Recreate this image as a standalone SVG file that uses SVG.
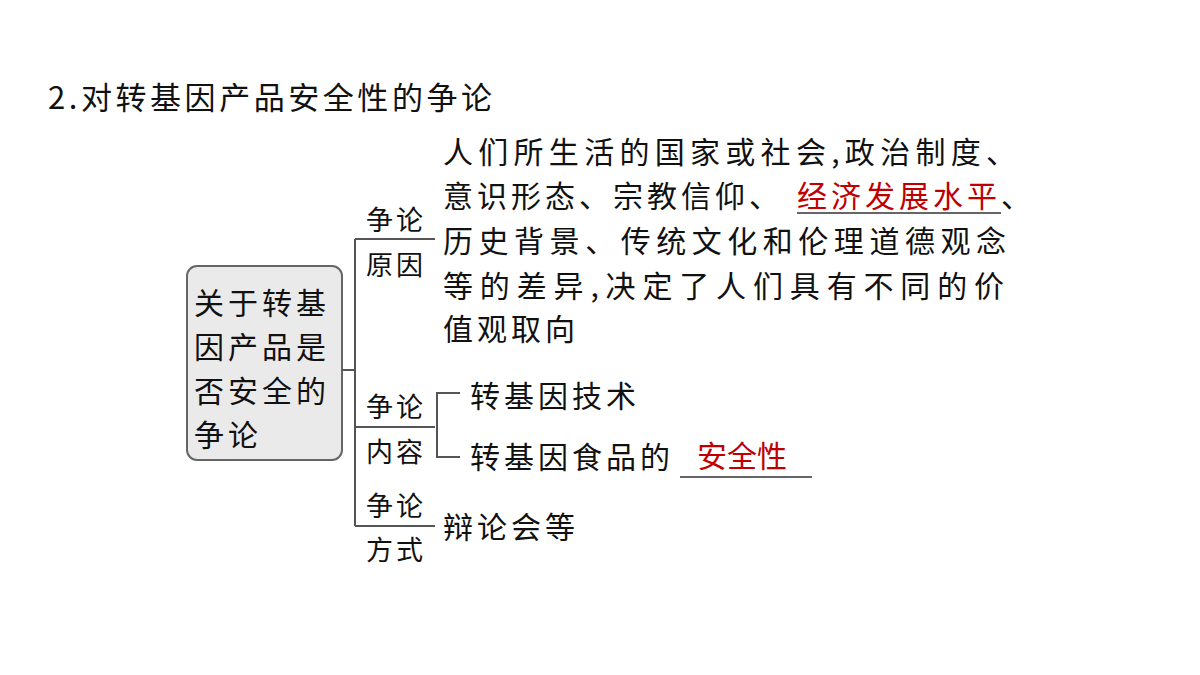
<svg xmlns="http://www.w3.org/2000/svg" width="1200" height="675" viewBox="0 0 1200 675">
<style>
text{font-family:"Noto Sans CJK SC","Liberation Serif",serif;fill:#111}
.t{font-size:30px;letter-spacing:4px}
.l{font-size:27px;letter-spacing:3px}
.r{fill:#c00000}
.c{stroke:#555;stroke-width:2;fill:none}
</style>
<rect width="1200" height="675" fill="#fff"/>
<text x="48" y="109" style="font-size:31px" textLength="444" lengthAdjust="spacing">2.对转基因产品安全性的争论</text>
<g id="root">
<rect x="187" y="266" width="155" height="194" rx="10" fill="#eaeaea" stroke="#666" stroke-width="2"/>
<text class="t" x="194" y="314">关于转基</text>
<text class="t" x="194" y="358">因产品是</text>
<text class="t" x="194" y="402">否安全的</text>
<text class="t" x="194" y="446">争论</text>
</g>
<g id="connectors">
<path class="c" d="M342 370H355M355 239V526M355 239H435M355 427H435M355 526H435M460 393H437V457H460"/>
</g>
<g id="reason">
<text class="l" x="366" y="230">争论</text>
<text class="l" x="366" y="275">原因</text>
<text class="t" x="443" y="163" textLength="577" lengthAdjust="spacing">人们所生活的国家或社会,政治制度、</text>
<text class="t" x="443" y="207">意识形态、宗教信仰、<tspan class="r" x="797">经济发展水平</tspan><tspan x="1001">、</tspan></text>
<line x1="797" y1="213" x2="1001" y2="213" stroke="#333" stroke-width="1.5"/>
<text class="t" x="443" y="252" textLength="567" lengthAdjust="spacing">历史背景、传统文化和伦理道德观念</text>
<text class="t" x="443" y="297" textLength="565" lengthAdjust="spacing">等的差异,决定了人们具有不同的价</text>
<text class="t" x="443" y="340">值观取向</text>
</g>
<g id="content">
<text class="l" x="366" y="417">争论</text>
<text class="l" x="366" y="462">内容</text>
<text class="t" x="470" y="407">转基因技术</text>
<text class="t" x="470" y="468">转基因食品的</text>
<text class="t r" x="697" y="467" style="letter-spacing:0">安全性</text>
<line x1="680" y1="477" x2="812" y2="477" stroke="#333" stroke-width="1.5"/>
</g>
<g id="method">
<text class="l" x="366" y="516">争论</text>
<text class="l" x="366" y="560">方式</text>
<text class="t" x="443" y="538">辩论会等</text>
</g>
</svg>
